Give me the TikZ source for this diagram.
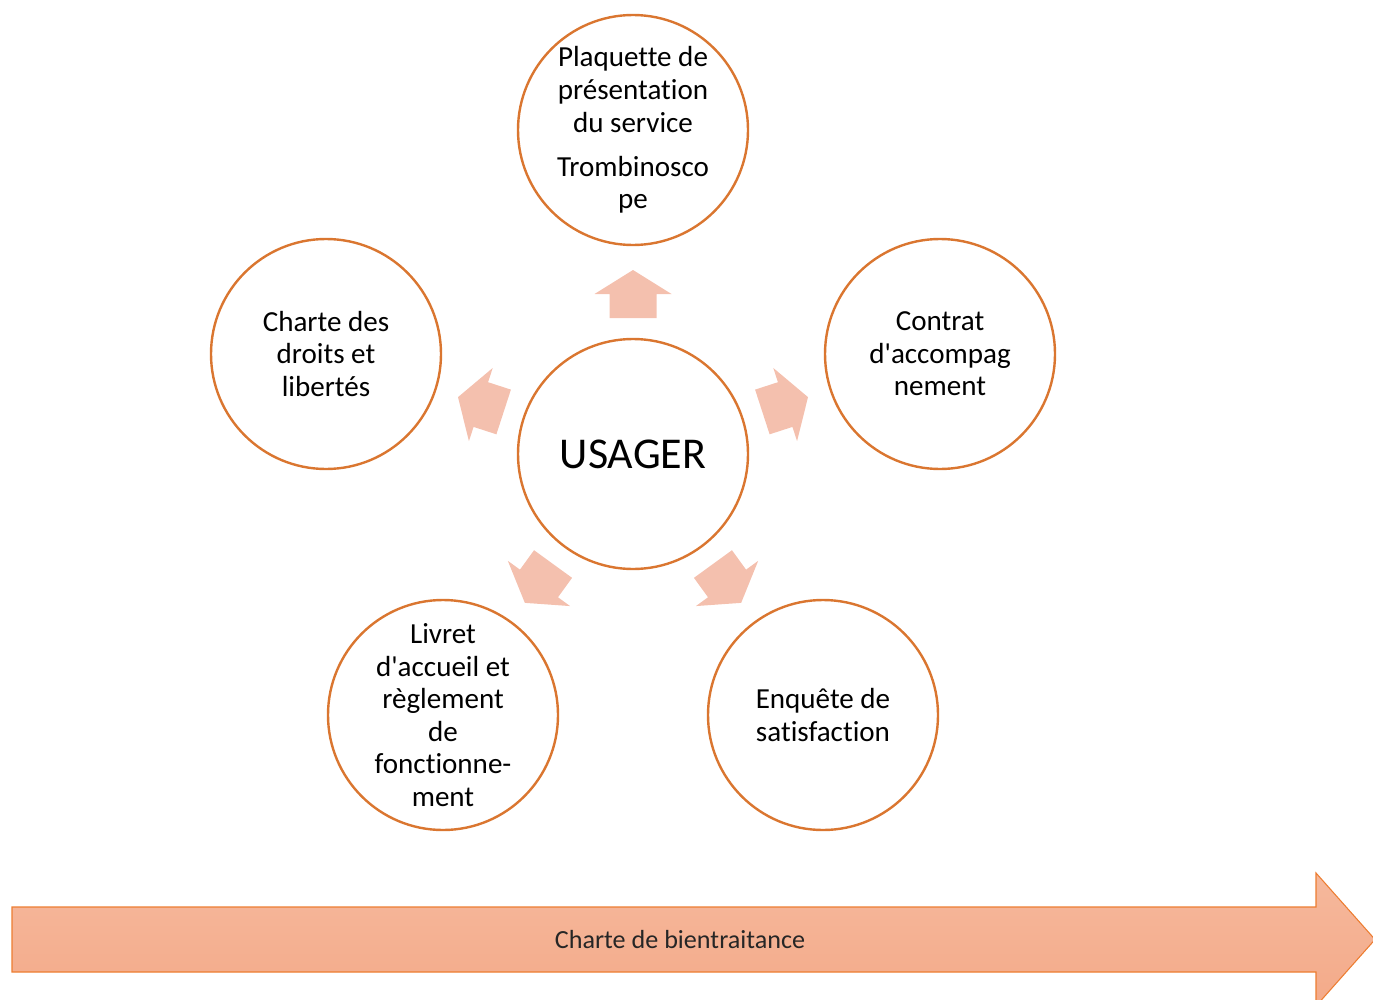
\documentclass[tikz,border=0pt]{standalone}
\usepackage{fontspec}
\setmainfont{Carlito}[RawFeature={-liga;-clig;-dlig}]
\usetikzlibrary{shapes.geometric}
\definecolor{ringorange}{RGB}{218,118,48}
\definecolor{arrowpink}{RGB}{244,192,174}
\definecolor{bandtop}{RGB}{245,184,156}
\definecolor{bandbot}{RGB}{244,170,137}
\definecolor{bandline}{RGB}{237,125,49}
\tikzset{
  ring/.style={circle, draw=ringorange, line width=1.8pt, fill=white,
    minimum size=172.5pt, inner sep=0pt, align=center,
    font=\fontsize{21.8}{24.4}\selectfont},
  petal/.style={fill=arrowpink, draw=none},
}
\begin{document}
\begin{tikzpicture}[x=0.75pt,y=-0.75pt]
\useasboundingbox (0,0) rectangle (1373,999);
% bottom band arrow
\draw[top color=bandtop, bottom color=bandbot, draw=bandline, line width=0.8pt]
  (12,907) -- (1316,907) -- (1316,873) -- (1375,939.5) -- (1316,1006)
  -- (1316,972) -- (12,972) -- cycle;
\node[font=\fontsize{19.6}{22}\selectfont, text=black!85] (band) at (680,940) {Charte de bientraitance};
% circles
\node[ring, font=\fontsize{33}{36}\selectfont] (usager) at (633,454) {USAGER};
\node[ring] (top) at (633,130) {Plaquette de\\présentation\\du service\\[8.6pt]Trombinosco\\pe};
\node[ring] (left) at (326,354) {Charte des\\droits et\\libertés};
\node[ring] (right) at (940,354) {Contrat\\d\textquotesingle accompag\\nement};
\node[ring] (bl) at (443,715) {Livret\\d\textquotesingle accueil et\\règlement\\de\\fonctionne-\\ment};
\node[ring] (br) at (823,715) {Enquête de\\satisfaction};
% block arrows
\foreach \a in {90,162,18,234,306}{
  \begin{scope}[shift={(usager.center)}, rotate=\a]
    \fill[petal] (136,-23.5) -- (160,-23.5) -- (160,-38.5) -- (184,0)
      -- (160,38.5) -- (160,23.5) -- (136,23.5) -- cycle;
  \end{scope}
}
\end{tikzpicture}
\end{document}
